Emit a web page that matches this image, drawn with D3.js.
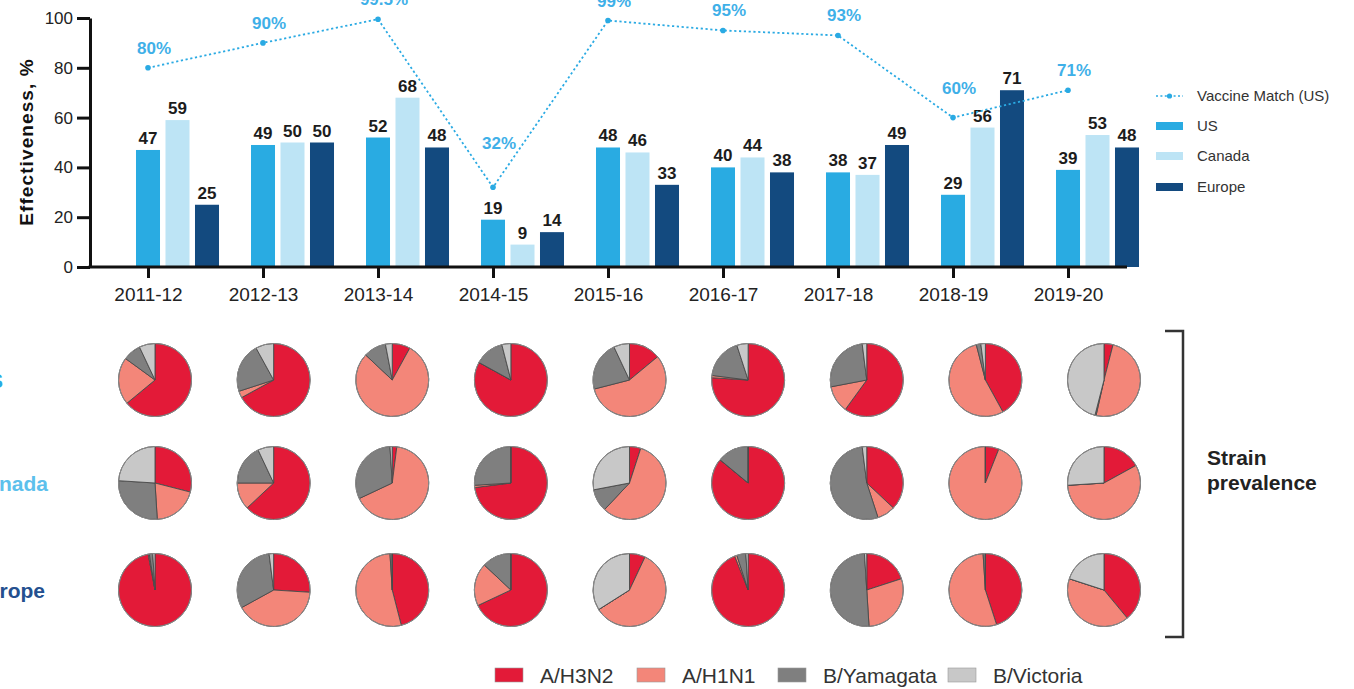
<!DOCTYPE html>
<html>
<head>
<meta charset="utf-8">
<script src="https://cdn.jsdelivr.net/npm/d3@7"></script>
<style>
  html, body { margin: 0; padding: 0; background: #fff; }
  svg { display: block; font-family: "Liberation Sans", Arial, Helvetica, sans-serif; }
</style>
</head>
<body>
<svg id="chart" width="1354" height="689"></svg>
<script>
// Influenza seasons on the x axis
const seasons = ["2011-12", "2012-13", "2013-14", "2014-15", "2015-16", "2016-17", "2017-18", "2018-19", "2019-20"];

// Vaccine effectiveness (%) by region
const regions = ["US", "Canada", "Europe"];
const usEffectiveness = [47, 49, 52, 19, 48, 40, 38, 29, 39];
const canadaEffectiveness = [59, 50, 68, 9, 46, 44, 37, 56, 53];
const europeEffectiveness = [25, 50, 48, 14, 33, 38, 49, 71, 48];

// Vaccine match in the US (%)
const vaccineMatch = [80, 90, 99.5, 32, 99, 95, 93, 60, 71];

// y-axis ticks
const yTicks = [0, 20, 40, 60, 80, 100];

// Strain prevalence (%) per season: [A/H3N2, A/H1N1, B/Yamagata, B/Victoria]
const strains = ["A/H3N2", "A/H1N1", "B/Yamagata", "B/Victoria"];
const usStrains = [
  [64, 21, 8, 7], [67, 3, 22, 8], [8, 79, 10, 3], [83, 0, 13, 4], [14, 57, 22, 7],
  [76, 1, 18, 5], [60, 12, 26, 2], [42, 54, 2, 2], [4, 49.5, 0.5, 46]
];
const canadaStrains = [
  [29, 20, 27, 24], [63, 12, 18, 7], [2, 66, 31, 1], [73, 1, 26, 0], [5, 57, 10, 28],
  [86, 0, 14, 0], [37, 8, 53, 2], [6, 94, 0, 0], [17, 57, 0, 26]
];
const europeStrains = [
  [97, 0.5, 1.5, 1], [26, 41, 31, 2], [46, 53, 1, 0], [68, 19, 13, 0], [7, 59, 0, 34],
  [94, 1, 4, 1], [20, 29, 50, 1], [45, 54, 1, 0], [39, 41, 0, 20]
];

// ---- styling ----
const regionColors = { "US": "#29abe2", "Canada": "#bde4f5", "Europe": "#134a7f" };
const regionLabelColors = { "US": "#29abe2", "Canada": "#5cc0ec", "Europe": "#24508f" };
const strainColors = ["#e31a38", "#f38679", "#7f7f7f", "#c8c8c8"];
const matchColor = "#2aaae3";
const matchLabelColor = "#3fb0e8";

const svg = d3.select("#chart");

// ---- scales ----
const x = d3.scalePoint().domain(seasons).range([148, 1068]);
const xSeries = d3.scaleBand().domain(regions).range([-14.75, 73.75]).paddingInner(0.186).paddingOuter(0.093);
const y = d3.scaleLinear().domain([0, 100]).range([267, 18]);

// ---- bars ----
const effByRegion = { "US": usEffectiveness, "Canada": canadaEffectiveness, "Europe": europeEffectiveness };
const barRows = [];
seasons.forEach((s, i) => regions.forEach(r => barRows.push({ season: s, region: r, value: effByRegion[r][i] })));

const bars = svg.append("g");
bars.selectAll("rect")
  .data(barRows)
  .join("rect")
  .attr("x", d => x(d.season) + xSeries(d.region))
  .attr("y", d => y(d.value))
  .attr("width", xSeries.bandwidth())
  .attr("height", d => y(0) - y(d.value))
  .attr("fill", d => regionColors[d.region]);

bars.selectAll("text")
  .data(barRows)
  .join("text")
  .attr("x", d => x(d.season) + xSeries(d.region) + xSeries.bandwidth() / 2)
  .attr("y", d => y(d.value) - 6)
  .attr("text-anchor", "middle")
  .attr("font-size", 17)
  .attr("font-weight", "bold")
  .attr("fill", "#1c1c1c")
  .text(d => d.value);

// ---- axes ----
const yAxis = svg.append("g")
  .attr("transform", "translate(90,0)")
  .call(d3.axisLeft(y).tickValues(yTicks).tickSize(13).tickSizeOuter(0).tickPadding(4));
yAxis.select(".domain").attr("stroke", "#111").attr("stroke-width", 3);
yAxis.selectAll(".tick line").attr("stroke", "#111").attr("stroke-width", 3);
yAxis.selectAll(".tick text").attr("font-size", 17).attr("fill", "#222").attr("font-family", null);

const xAxis = svg.append("g")
  .attr("transform", `translate(0,${y(0)})`)
  .call(d3.axisBottom(x).tickSize(11).tickPadding(10));
xAxis.select(".domain").remove();
xAxis.append("line")
  .attr("x1", 88.5).attr("x2", x(seasons[seasons.length - 1]) + 59)
  .attr("stroke", "#111").attr("stroke-width", 3);
xAxis.selectAll(".tick line").attr("stroke", "#111").attr("stroke-width", 3);
xAxis.selectAll(".tick text").attr("font-size", 19).attr("fill", "#222").attr("font-family", null);

svg.append("text")
  .attr("transform", `translate(33,142) rotate(-90)`)
  .attr("text-anchor", "middle")
  .attr("font-size", 19)
  .attr("letter-spacing", 1.1)
  .attr("font-weight", "bold")
  .attr("fill", "#111")
  .text("Effectiveness, %");

// ---- vaccine match line ----
const matchPts = seasons.map((s, i) => ({ season: s, value: vaccineMatch[i] }));
const line = d3.line().x(d => x(d.season)).y(d => y(d.value));
svg.append("path")
  .datum(matchPts)
  .attr("d", line)
  .attr("fill", "none")
  .attr("stroke", matchColor)
  .attr("stroke-width", 1.8)
  .attr("stroke-dasharray", "2.2,2.6");
svg.append("g").selectAll("circle")
  .data(matchPts)
  .join("circle")
  .attr("cx", d => x(d.season))
  .attr("cy", d => y(d.value))
  .attr("r", 2.8)
  .attr("fill", matchColor);

// labels sit above each point; two are lifted clear of the line
const labelLift = { "2014-15": 38, "2018-19": 24 };
svg.append("g").selectAll("text")
  .data(matchPts)
  .join("text")
  .attr("x", d => x(d.season) + 6)
  .attr("y", d => y(d.value) - (labelLift[d.season] || 14))
  .attr("text-anchor", "middle")
  .attr("font-size", 17)
  .attr("font-weight", "bold")
  .attr("fill", matchLabelColor)
  .text(d => d.value + "%");

// ---- top legend ----
const legend = svg.append("g").attr("transform", "translate(1156,0)");
legend.append("line")
  .attr("x1", 0).attr("x2", 27).attr("y1", 96).attr("y2", 96)
  .attr("stroke", matchColor).attr("stroke-width", 1.6).attr("stroke-dasharray", "2,2.4");
legend.append("circle").attr("cx", 13.5).attr("cy", 96).attr("r", 2.6).attr("fill", matchColor);
legend.append("text").attr("x", 41).attr("y", 101).attr("font-size", 15).attr("fill", "#333").text("Vaccine Match (US)");
const legendY = { "US": 126, "Canada": 156, "Europe": 187 };
regions.forEach(r => {
  legend.append("rect").attr("x", 0).attr("y", legendY[r] - 4).attr("width", 27).attr("height", 8).attr("fill", regionColors[r]);
  legend.append("text").attr("x", 41).attr("y", legendY[r] + 5).attr("font-size", 15).attr("fill", "#333").text(r);
});

// ---- strain prevalence pies ----
const px = d3.scalePoint().domain(seasons).range([155, 1104]);
const rowY = { "US": 380, "Canada": 483, "Europe": 590 };
const strainsByRegion = { "US": usStrains, "Canada": canadaStrains, "Europe": europeStrains };
const pie = d3.pie().sort(null).value(d => d);
const arc = d3.arc().innerRadius(0).outerRadius(36.5);

regions.forEach(r => {
  seasons.forEach((s, i) => {
    const g = svg.append("g").attr("transform", `translate(${px(s)},${rowY[r]})`);
    g.selectAll("path")
      .data(pie(strainsByRegion[r][i]))
      .join("path")
      .attr("d", arc)
      .attr("fill", (d, k) => strainColors[k])
      .attr("stroke", "#4a4a4a")
      .attr("stroke-width", 0.9)
      .attr("stroke-linejoin", "round");
    g.append("circle").attr("r", 36.5).attr("fill", "none").attr("stroke", "#8a8a8a").attr("stroke-width", 1);
  });
});

// row labels at the left edge
const rowLabelEnd = { "US": 3, "Canada": 48, "Europe": 45 };
regions.forEach(r => {
  svg.append("text")
    .attr("x", rowLabelEnd[r])
    .attr("y", rowY[r] + 8)
    .attr("text-anchor", "end")
    .attr("font-size", 21)
    .attr("font-weight", "bold")
    .attr("fill", regionLabelColors[r])
    .text(r);
});

// bracket and caption
svg.append("path")
  .attr("d", "M1165,331 H1183 V637 H1165")
  .attr("fill", "none").attr("stroke", "#333").attr("stroke-width", 2.5);
const cap = svg.append("text").attr("x", 1207).attr("font-size", 21).attr("font-weight", "bold").attr("fill", "#222");
cap.append("tspan").attr("x", 1207).attr("y", 465).text("Strain");
cap.append("tspan").attr("x", 1207).attr("y", 490).text("prevalence");

// ---- strain legend ----
const strainLegendX = [495, 637, 778, 948];
const sl = svg.append("g");
strains.forEach((s, k) => {
  sl.append("rect").attr("x", strainLegendX[k]).attr("y", 668).attr("width", 28).attr("height", 14)
    .attr("fill", strainColors[k]).attr("stroke", "#999").attr("stroke-width", 0.6);
  sl.append("text").attr("x", strainLegendX[k] + 45).attr("y", 683).attr("font-size", 21).attr("fill", "#333").text(s);
});
</script>
</body>
</html>
